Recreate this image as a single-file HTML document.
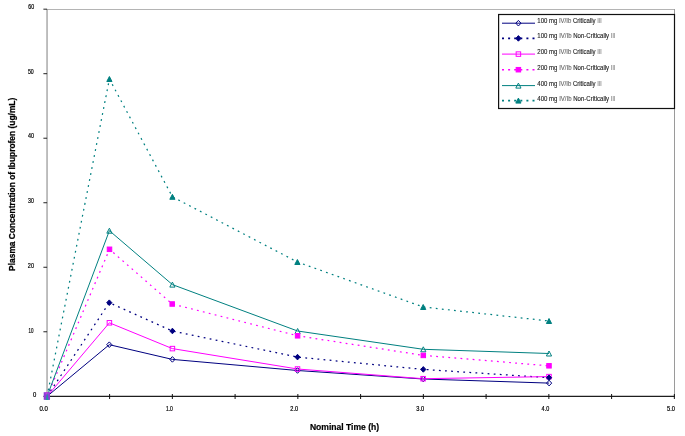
<!DOCTYPE html>
<html><head><meta charset="utf-8"><style>
html,body{margin:0;padding:0;background:#fff;}
svg{display:block;will-change:transform;}
text{font-family:"Liberation Sans",sans-serif;}
</style></head><body>
<svg width="685" height="436" viewBox="0 0 685 436">
<rect x="0" y="0" width="685" height="436" fill="#fff"/>

<path d="M47 9.5H674.5" fill="none" stroke="#b4b4b4" stroke-width="1"/>
<path d="M674.5 9V396.3" fill="none" stroke="#9a9a9a" stroke-width="1"/>
<path d="M47.05 9V396.3" fill="none" stroke="#a4a4a4" stroke-width="1.4"/>
<path d="M43.4 396.30H47.1" stroke="#222" stroke-width="1"/>
<path d="M43.4 331.78H47.1" stroke="#222" stroke-width="1"/>
<path d="M43.4 267.26H47.1" stroke="#222" stroke-width="1"/>
<path d="M43.4 202.74H47.1" stroke="#222" stroke-width="1"/>
<path d="M43.4 138.22H47.1" stroke="#222" stroke-width="1"/>
<path d="M43.4 73.70H47.1" stroke="#222" stroke-width="1"/>
<path d="M43.4 9.18H47.1" stroke="#222" stroke-width="1"/>
<path d="M47 396.4H674.8" stroke="#1e1e1e" stroke-width="1.4"/>
<path d="M46.85 394V399" stroke="#111" stroke-width="1"/>
<path d="M109.60 394V399" stroke="#111" stroke-width="1"/>
<path d="M172.35 394V399" stroke="#111" stroke-width="1"/>
<path d="M235.10 394V399" stroke="#111" stroke-width="1"/>
<path d="M297.85 394V399" stroke="#111" stroke-width="1"/>
<path d="M360.60 394V399" stroke="#111" stroke-width="1"/>
<path d="M423.35 394V399" stroke="#111" stroke-width="1"/>
<path d="M486.10 394V399" stroke="#111" stroke-width="1"/>
<path d="M548.85 394V399" stroke="#111" stroke-width="1"/>
<path d="M611.60 394V399" stroke="#111" stroke-width="1"/>
<path d="M674.35 394V399" stroke="#111" stroke-width="1"/>
<text x="34.6" y="396.9" font-size="6.6" text-anchor="middle" textLength="3.3" lengthAdjust="spacingAndGlyphs" fill="#000" stroke="#000" stroke-width="0.2">0</text>
<text x="30.9" y="332.7" font-size="6.6" text-anchor="middle" textLength="5.0" lengthAdjust="spacingAndGlyphs" fill="#000" stroke="#000" stroke-width="0.2">10</text>
<text x="30.9" y="267.7" font-size="6.6" text-anchor="middle" textLength="6.1" lengthAdjust="spacingAndGlyphs" fill="#000" stroke="#000" stroke-width="0.2">20</text>
<text x="30.9" y="202.8" font-size="6.6" text-anchor="middle" textLength="5.8" lengthAdjust="spacingAndGlyphs" fill="#000" stroke="#000" stroke-width="0.2">30</text>
<text x="31.0" y="138.0" font-size="6.6" text-anchor="middle" textLength="6.0" lengthAdjust="spacingAndGlyphs" fill="#000" stroke="#000" stroke-width="0.2">40</text>
<text x="30.8" y="73.8" font-size="6.6" text-anchor="middle" textLength="5.8" lengthAdjust="spacingAndGlyphs" fill="#000" stroke="#000" stroke-width="0.2">50</text>
<text x="31.2" y="8.9" font-size="6.6" text-anchor="middle" textLength="5.9" lengthAdjust="spacingAndGlyphs" fill="#000" stroke="#000" stroke-width="0.2">60</text>
<text x="43.7" y="410.8" font-size="6.6" text-anchor="middle" textLength="8.4" lengthAdjust="spacingAndGlyphs" fill="#000" stroke="#000" stroke-width="0.2">0.0</text>
<text x="169.4" y="410.8" font-size="6.6" text-anchor="middle" textLength="7.0" lengthAdjust="spacingAndGlyphs" fill="#000" stroke="#000" stroke-width="0.2">1.0</text>
<text x="294.2" y="410.8" font-size="6.6" text-anchor="middle" textLength="7.8" lengthAdjust="spacingAndGlyphs" fill="#000" stroke="#000" stroke-width="0.2">2.0</text>
<text x="420.2" y="410.8" font-size="6.6" text-anchor="middle" textLength="7.9" lengthAdjust="spacingAndGlyphs" fill="#000" stroke="#000" stroke-width="0.2">3.0</text>
<text x="545.4" y="410.8" font-size="6.6" text-anchor="middle" textLength="7.6" lengthAdjust="spacingAndGlyphs" fill="#000" stroke="#000" stroke-width="0.2">4.0</text>
<text x="671.0" y="410.8" font-size="6.6" text-anchor="middle" textLength="7.9" lengthAdjust="spacingAndGlyphs" fill="#000" stroke="#000" stroke-width="0.2">5.0</text>
<text x="309.9" y="430.2" font-size="9" font-weight="bold" textLength="69.3" lengthAdjust="spacingAndGlyphs" fill="#000" stroke="#000" stroke-width="0.2">Nominal Time (h)</text>
<text transform="translate(14.5 270.9) rotate(-90)" x="0" y="0" font-size="9.2" font-weight="bold" textLength="173.2" lengthAdjust="spacingAndGlyphs" fill="#000" stroke="#000" stroke-width="0.25">Plasma Concentration of Ibuprofen (ug/mL)</text>
<path d="M47.10 396.30 L109.30 344.70 L172.40 359.40 L297.50 370.50 L423.20 379.00 L549.10 383.10" fill="none" stroke="#000080" stroke-width="1"/>
<path d="M47.10 396.30 L109.30 302.70 L172.40 331.00 L297.50 357.10 L423.30 369.40 L549.00 377.70" fill="none" stroke="#000080" stroke-width="1.25" stroke-dasharray="1.8 4.3"/>
<path d="M47.10 396.30 L109.40 322.80 L172.40 348.60 L297.50 369.00 L423.10 378.70 L549.00 376.60" fill="none" stroke="#FF00FF" stroke-width="1"/>
<path d="M47.10 396.30 L109.50 249.30 L172.20 304.00 L297.60 335.80 L423.30 355.40 L549.00 365.80" fill="none" stroke="#FF00FF" stroke-width="1.25" stroke-dasharray="1.8 4.3"/>
<path d="M47.10 396.30 L109.40 230.70 L172.40 284.60 L297.60 331.00 L423.30 349.30 L549.00 353.50" fill="none" stroke="#008080" stroke-width="1"/>
<path d="M47.10 396.30 L109.40 79.00 L172.40 196.80 L297.40 262.00 L423.20 307.00 L549.00 321.00" fill="none" stroke="#008080" stroke-width="1.25" stroke-dasharray="1.8 4.3"/>
<path d="M47.10 393.50L49.70 396.30L47.10 399.10L44.50 396.30Z" fill="none" stroke="#000080" stroke-width="1"/>
<path d="M109.30 341.90L111.90 344.70L109.30 347.50L106.70 344.70Z" fill="none" stroke="#000080" stroke-width="1"/>
<path d="M172.40 356.60L175.00 359.40L172.40 362.20L169.80 359.40Z" fill="none" stroke="#000080" stroke-width="1"/>
<path d="M297.50 367.70L300.10 370.50L297.50 373.30L294.90 370.50Z" fill="none" stroke="#000080" stroke-width="1"/>
<path d="M423.20 376.20L425.80 379.00L423.20 381.80L420.60 379.00Z" fill="none" stroke="#000080" stroke-width="1"/>
<path d="M549.10 380.30L551.70 383.10L549.10 385.90L546.50 383.10Z" fill="none" stroke="#000080" stroke-width="1"/>
<rect x="44.85" y="394.05" width="4.50" height="4.50" fill="none" stroke="#FF00FF" stroke-width="1"/>
<rect x="107.15" y="320.55" width="4.50" height="4.50" fill="none" stroke="#FF00FF" stroke-width="1"/>
<rect x="170.15" y="346.35" width="4.50" height="4.50" fill="none" stroke="#FF00FF" stroke-width="1"/>
<rect x="295.25" y="366.75" width="4.50" height="4.50" fill="none" stroke="#FF00FF" stroke-width="1"/>
<rect x="420.85" y="376.45" width="4.50" height="4.50" fill="none" stroke="#FF00FF" stroke-width="1"/>
<rect x="546.75" y="374.35" width="4.50" height="4.50" fill="none" stroke="#FF00FF" stroke-width="1"/>
<path d="M47.10 393.80L49.70 398.80L44.50 398.80Z" fill="none" stroke="#008080" stroke-width="1" stroke-linejoin="miter"/>
<path d="M109.40 228.20L112.00 233.20L106.80 233.20Z" fill="none" stroke="#008080" stroke-width="1" stroke-linejoin="miter"/>
<path d="M172.40 282.10L175.00 287.10L169.80 287.10Z" fill="none" stroke="#008080" stroke-width="1" stroke-linejoin="miter"/>
<path d="M297.60 328.50L300.20 333.50L295.00 333.50Z" fill="none" stroke="#008080" stroke-width="1" stroke-linejoin="miter"/>
<path d="M423.30 346.80L425.90 351.80L420.70 351.80Z" fill="none" stroke="#008080" stroke-width="1" stroke-linejoin="miter"/>
<path d="M549.00 351.00L551.60 356.00L546.40 356.00Z" fill="none" stroke="#008080" stroke-width="1" stroke-linejoin="miter"/>
<path d="M47.10 393.50L49.70 396.30L47.10 399.10L44.50 396.30Z" fill="#000080" stroke="#000080" stroke-width="1"/>
<path d="M109.30 299.90L111.90 302.70L109.30 305.50L106.70 302.70Z" fill="#000080" stroke="#000080" stroke-width="1"/>
<path d="M172.40 328.20L175.00 331.00L172.40 333.80L169.80 331.00Z" fill="#000080" stroke="#000080" stroke-width="1"/>
<path d="M297.50 354.30L300.10 357.10L297.50 359.90L294.90 357.10Z" fill="#000080" stroke="#000080" stroke-width="1"/>
<path d="M423.30 366.60L425.90 369.40L423.30 372.20L420.70 369.40Z" fill="#000080" stroke="#000080" stroke-width="1"/>
<path d="M549.00 374.90L551.60 377.70L549.00 380.50L546.40 377.70Z" fill="#000080" stroke="#000080" stroke-width="1"/>
<rect x="44.85" y="394.05" width="4.50" height="4.50" fill="#FF00FF" stroke="#FF00FF" stroke-width="1"/>
<rect x="107.25" y="247.05" width="4.50" height="4.50" fill="#FF00FF" stroke="#FF00FF" stroke-width="1"/>
<rect x="169.95" y="301.75" width="4.50" height="4.50" fill="#FF00FF" stroke="#FF00FF" stroke-width="1"/>
<rect x="295.35" y="333.55" width="4.50" height="4.50" fill="#FF00FF" stroke="#FF00FF" stroke-width="1"/>
<rect x="421.05" y="353.15" width="4.50" height="4.50" fill="#FF00FF" stroke="#FF00FF" stroke-width="1"/>
<rect x="546.75" y="363.55" width="4.50" height="4.50" fill="#FF00FF" stroke="#FF00FF" stroke-width="1"/>
<path d="M47.10 393.80L49.70 398.80L44.50 398.80Z" fill="#008080" stroke="#008080" stroke-width="1" stroke-linejoin="miter"/>
<path d="M109.40 76.50L112.00 81.50L106.80 81.50Z" fill="#008080" stroke="#008080" stroke-width="1" stroke-linejoin="miter"/>
<path d="M172.40 194.30L175.00 199.30L169.80 199.30Z" fill="#008080" stroke="#008080" stroke-width="1" stroke-linejoin="miter"/>
<path d="M297.40 259.50L300.00 264.50L294.80 264.50Z" fill="#008080" stroke="#008080" stroke-width="1" stroke-linejoin="miter"/>
<path d="M423.20 304.50L425.80 309.50L420.60 309.50Z" fill="#008080" stroke="#008080" stroke-width="1" stroke-linejoin="miter"/>
<path d="M549.00 318.50L551.60 323.50L546.40 323.50Z" fill="#008080" stroke="#008080" stroke-width="1" stroke-linejoin="miter"/>
<rect x="43.7" y="392.2" width="6.3" height="7.6" fill="#8c3cd8"/>
<rect x="45.5" y="392.2" width="3" height="2.2" fill="#c23ee0"/>
<path d="M47.2 392.6L48.6 400H45.8Z" fill="#1f9a9e"/>
<rect x="498.6" y="14.5" width="175.9" height="94" fill="#fff" stroke="#111" stroke-width="1.2"/>
<path d="M502 23.2H535" stroke="#000080" stroke-width="1"/>
<path d="M518.40 20.40L521.00 23.20L518.40 26.00L515.80 23.20Z" fill="none" stroke="#000080" stroke-width="1"/>
<text x="537.3" y="23.2" font-size="6.6" textLength="64.3" lengthAdjust="spacingAndGlyphs" fill="#222" stroke="#222" stroke-width="0.12">100 mg <tspan fill="#666" stroke="#666">IV/Ib</tspan> Critically <tspan fill="#888" stroke="#888">Ill</tspan></text>
<path d="M502 38.4H535" stroke="#000080" stroke-width="1.6" stroke-dasharray="2 4.1"/>
<path d="M518.40 35.60L521.00 38.40L518.40 41.20L515.80 38.40Z" fill="#000080" stroke="#000080" stroke-width="1"/>
<text x="537.3" y="38.4" font-size="6.6" textLength="77.9" lengthAdjust="spacingAndGlyphs" fill="#222" stroke="#222" stroke-width="0.12">100 mg <tspan fill="#666" stroke="#666">IV/Ib</tspan> Non-Critically <tspan fill="#888" stroke="#888">Ill</tspan></text>
<path d="M502 54.1H535" stroke="#FF00FF" stroke-width="1"/>
<rect x="516.15" y="51.85" width="4.50" height="4.50" fill="none" stroke="#FF00FF" stroke-width="1"/>
<text x="537.3" y="54.1" font-size="6.6" textLength="64.3" lengthAdjust="spacingAndGlyphs" fill="#222" stroke="#222" stroke-width="0.12">200 mg <tspan fill="#666" stroke="#666">IV/Ib</tspan> Critically <tspan fill="#888" stroke="#888">Ill</tspan></text>
<path d="M502 69.7H535" stroke="#FF00FF" stroke-width="1.6" stroke-dasharray="2 4.1"/>
<rect x="516.15" y="67.45" width="4.50" height="4.50" fill="#FF00FF" stroke="#FF00FF" stroke-width="1"/>
<text x="537.3" y="69.7" font-size="6.6" textLength="77.9" lengthAdjust="spacingAndGlyphs" fill="#222" stroke="#222" stroke-width="0.12">200 mg <tspan fill="#666" stroke="#666">IV/Ib</tspan> Non-Critically <tspan fill="#888" stroke="#888">Ill</tspan></text>
<path d="M502 85.6H535" stroke="#008080" stroke-width="1"/>
<path d="M518.40 83.10L521.00 88.10L515.80 88.10Z" fill="none" stroke="#008080" stroke-width="1" stroke-linejoin="miter"/>
<text x="537.3" y="85.6" font-size="6.6" textLength="64.3" lengthAdjust="spacingAndGlyphs" fill="#222" stroke="#222" stroke-width="0.12">400 mg <tspan fill="#666" stroke="#666">IV/Ib</tspan> Critically <tspan fill="#888" stroke="#888">Ill</tspan></text>
<path d="M502 100.6H535" stroke="#008080" stroke-width="1.6" stroke-dasharray="2 4.1"/>
<path d="M518.40 98.10L521.00 103.10L515.80 103.10Z" fill="#008080" stroke="#008080" stroke-width="1" stroke-linejoin="miter"/>
<text x="537.3" y="100.6" font-size="6.6" textLength="77.9" lengthAdjust="spacingAndGlyphs" fill="#222" stroke="#222" stroke-width="0.12">400 mg <tspan fill="#666" stroke="#666">IV/Ib</tspan> Non-Critically <tspan fill="#888" stroke="#888">Ill</tspan></text>
</svg></body></html>
